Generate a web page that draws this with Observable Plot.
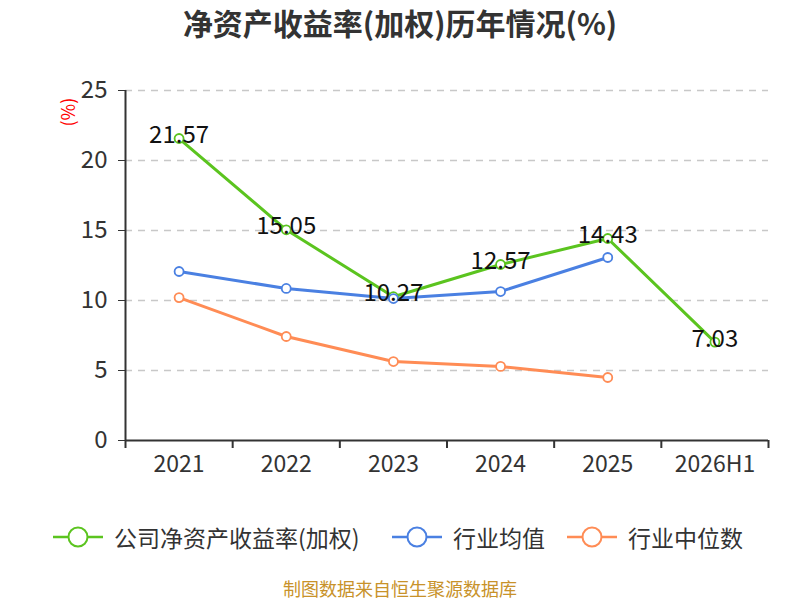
<!DOCTYPE html>
<html>
<head>
<meta charset="utf-8">
<script src="https://cdn.jsdelivr.net/npm/d3@7"></script>
<script src="https://cdn.jsdelivr.net/npm/@observablehq/plot@0.6"></script>
<style>
  html, body { margin: 0; padding: 0; background: #fff; width: 800px; height: 600px; overflow: hidden; font-family: "Noto Sans CJK SC", "Noto Sans", sans-serif; }
  #title { position: absolute; left: 0; top: 0; width: 800px; height: 50px; line-height: 44px; text-align: center; font-size: 30px; font-weight: bold; color: #333; }
  #chart { position: absolute; left: 0; top: 50px; }
  #legend { position: absolute; left: 0; top: 520px; width: 800px; height: 34px; }
  .item { position: absolute; top: 0; height: 34px; line-height: 34px; font-size: 23px; color: #333; white-space: nowrap; }
  .item svg { position: absolute; left: 0; top: 5px; }
  .item span { position: absolute; top: 0; }
  #caption { position: absolute; left: 0; top: 577px; width: 800px; height: 22px; text-align: center; font-size: 18px; line-height: 22px; color: #c8922a; }
</style>
</head>
<body>
<div id="title">净资产收益率(加权)历年情况(%)</div>
<div id="chart"></div>
<div id="legend"></div>
<div id="caption">制图数据来自恒生聚源数据库</div>
<script>
const categories = ["2021", "2022", "2023", "2024", "2025", "2026H1"];
const companyROE = [21.57, 15.05, 10.27, 12.57, 14.43, 7.03];
const industryMean = [12.07, 10.86, 10.14, 10.64, 13.07];
const industryMedian = [10.21, 7.43, 5.64, 5.29, 4.50];
const seriesNames = ["公司净资产收益率(加权)", "行业均值", "行业中位数"];
const seriesColors = ["#5bc41f", "#4a80e2", "#ff8c55"];
const yTicks = [0, 5, 10, 15, 20, 25];

const seriesValues = [companyROE, industryMean, industryMedian];
const rows = [];
seriesValues.forEach((vals, s) => vals.forEach((v, i) => rows.push({s: seriesNames[s], i, v})));
const boundaries = d3.range(categories.length + 1).map(k => k - 0.5);
const compRows = rows.filter(d => d.s === seriesNames[0]);

const chart = Plot.plot({
  width: 800,
  height: 430,
  marginTop: 40,
  marginBottom: 40,
  marginLeft: 125,
  marginRight: 32,
  style: {fontFamily: '"Noto Sans CJK SC", "Noto Sans", sans-serif', background: "transparent"},
  x: {type: "linear", domain: [-0.5, categories.length - 0.5], axis: null},
  y: {domain: [0, 25], axis: null},
  color: {domain: seriesNames, range: seriesColors},
  marks: [
    Plot.ruleY(yTicks.filter(t => t > 0), {stroke: "#c8c8c8", strokeWidth: 1.5, strokeDasharray: "7,6"}),
    Plot.axisY({ticks: yTicks, label: null, tickSize: 7, tickPadding: 11, fontSize: 24, color: "#333", stroke: "#333", tickFormat: d => d}),
    Plot.axisX({ticks: boundaries, label: null, tickSize: 8, tickFormat: () => "", stroke: "#333", strokeWidth: 2}),
    Plot.axisX({ticks: d3.range(categories.length), label: null, tickSize: 0, tickPadding: 15, fontSize: 23, color: "#333", tickFormat: i => categories[i]}),
    Plot.ruleX([-0.5], {y1: 0, y2: 25, stroke: "#333", strokeWidth: 2}),
    Plot.ruleY([0], {stroke: "#333", strokeWidth: 2}),
    Plot.line(rows, {x: "i", y: "v", z: "s", stroke: "s", strokeWidth: 3}),
    Plot.dot(rows, {x: "i", y: "v", stroke: "s", fill: "white", r: 4.5, strokeWidth: 1.8}),
    Plot.text(compRows, {x: "i", y: "v", text: d => d.v.toFixed(2), fontSize: 24, fill: "#111", dy: -3}),
    Plot.text(["(%)"], {frameAnchor: "top-left", dx: -63, dy: 36, rotate: -90, fill: "red", fontSize: 18})
  ]
});
document.getElementById("chart").appendChild(chart);

const legend = document.getElementById("legend");
const lefts = [53, 392, 567];
seriesNames.forEach((name, k) => {
  const item = document.createElement("div");
  item.className = "item";
  item.style.left = lefts[k] + "px";
  item.innerHTML = `<svg width="52" height="24"><line x1="0" x2="50" y1="12" y2="12" stroke="${seriesColors[k]}" stroke-width="2.5"/><circle cx="25" cy="12" r="9.5" fill="white" stroke="${seriesColors[k]}" stroke-width="2"/></svg><span style="left:61px">${name}</span>`;
  legend.appendChild(item);
});
</script>
</body>
</html>
